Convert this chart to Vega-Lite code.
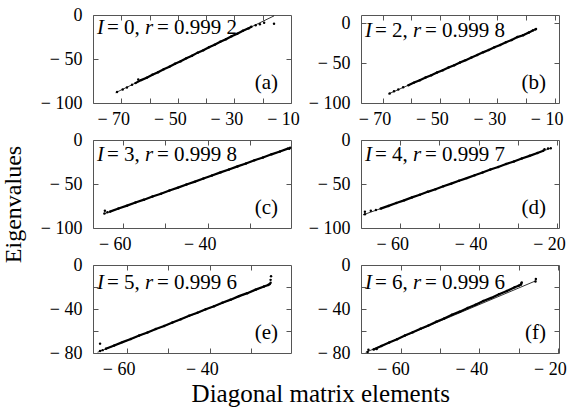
{
"$schema": "https://vega.github.io/schema/vega-lite/v6.json",
"padding": {"left": 0, "top": 5, "right": 0, "bottom": 0},
"config": {
  "font": "Liberation Serif",
  "view": {"stroke": "#555", "strokeWidth": 1},
  "axis": {"labelFont": "Liberation Serif", "labelFontSize": 18, "labelColor": "black", "tickColor": "#555", "tickSize": -5, "labelPadding": 16, "domain": false, "grid": false, "labelFlush": false, "labelOverlap": false, "titleFont": "Liberation Serif", "titleFontWeight": "normal", "titleColor": "black"},
  "axisBottom": {"labelPadding": 12, "labelOffset": -8},
  "text": {"font": "Liberation Serif", "fontSize": 21, "color": "black", "baseline": "alphabetic"}
},
"title": {"text": "Diagonal matrix elements", "orient": "bottom", "anchor": "middle", "fontSize": 25, "font": "Liberation Serif", "fontWeight": "normal", "color": "black", "offset": 3, "dx": 37},
"datasets": {
"fit": [
{"p":"a","x":-72,"y":-88.3},{"p":"a","x":-16,"y":-1.0},
{"p":"b","x":-68,"y":-88.8},{"p":"b","x":-16.5,"y":-7.7},
{"p":"c","x":-64.5,"y":-84.0},{"p":"c","x":-20.5,"y":-8.8},
{"p":"d","x":-69.5,"y":-85.1},{"p":"d","x":-21.5,"y":-9.2},
{"p":"e","x":-67,"y":-79.3},{"p":"e","x":-25.3,"y":-17.2},
{"p":"f","x":-69,"y":-79.4},{"p":"f","x":-25.5,"y":-14.2}
],
"pts": [
{"p":"a","x":-71.5,"y":-87.6,"s":1},{"p":"a","x":-69.5,"y":-84.6,"s":1},{"p":"a","x":-68,"y":-82.3,"s":1},{"p":"a","x":-66.2,"y":-79.3,"s":1},{"p":"a","x":-64,"y":-73.2,"s":1},
{"p":"a","x":-65,"y":-77.4,"s":0},{"p":"a","x":-63,"y":-74.0,"s":0},{"p":"a","x":-61,"y":-71.3,"s":0},{"p":"a","x":-59,"y":-67.8,"s":0},{"p":"a","x":-57,"y":-65.1,"s":0},{"p":"a","x":-55,"y":-61.6,"s":0},{"p":"a","x":-53,"y":-58.8,"s":0},{"p":"a","x":-51,"y":-55.3,"s":0},{"p":"a","x":-49,"y":-52.6,"s":0},{"p":"a","x":-47,"y":-49.1,"s":0},{"p":"a","x":-45,"y":-46.4,"s":0},{"p":"a","x":-43,"y":-42.8,"s":0},{"p":"a","x":-41,"y":-40.1,"s":0},{"p":"a","x":-39,"y":-36.6,"s":0},{"p":"a","x":-37,"y":-33.9,"s":0},{"p":"a","x":-35,"y":-30.4,"s":0},{"p":"a","x":-33,"y":-27.6,"s":0},{"p":"a","x":-31,"y":-24.1,"s":0},{"p":"a","x":-29,"y":-21.4,"s":0},{"p":"a","x":-27,"y":-17.9,"s":0},{"p":"a","x":-25,"y":-15.2,"s":0},{"p":"a","x":-24,"y":-13.4,"s":0},
{"p":"a","x":-22.5,"y":-11.6,"s":1},{"p":"a","x":-21,"y":-10.4,"s":1},{"p":"a","x":-19.5,"y":-8.8,"s":1},{"p":"a","x":-16,"y":-9.9,"s":1},
{"p":"b","x":-67.5,"y":-88.0,"s":1},{"p":"b","x":-66,"y":-85.4,"s":1},{"p":"b","x":-64.5,"y":-83.0,"s":1},{"p":"b","x":-62.8,"y":-80.2,"s":1},
{"p":"b","x":-61,"y":-77.8,"s":0},{"p":"b","x":-59,"y":-74.5,"s":0},{"p":"b","x":-57,"y":-71.6,"s":0},{"p":"b","x":-55,"y":-68.2,"s":0},{"p":"b","x":-53,"y":-65.3,"s":0},{"p":"b","x":-51,"y":-61.9,"s":0},{"p":"b","x":-49,"y":-59.0,"s":0},{"p":"b","x":-47,"y":-55.6,"s":0},{"p":"b","x":-45,"y":-52.7,"s":0},{"p":"b","x":-43,"y":-49.3,"s":0},{"p":"b","x":-41,"y":-46.4,"s":0},{"p":"b","x":-39,"y":-43.0,"s":0},{"p":"b","x":-37,"y":-40.1,"s":0},{"p":"b","x":-35,"y":-36.7,"s":0},{"p":"b","x":-33,"y":-33.8,"s":0},{"p":"b","x":-31,"y":-30.4,"s":0},{"p":"b","x":-29,"y":-27.5,"s":0},{"p":"b","x":-27,"y":-24.1,"s":0},{"p":"b","x":-25,"y":-21.2,"s":0},{"p":"b","x":-23,"y":-17.6,"s":0},{"p":"b","x":-21,"y":-15.4,"s":0},{"p":"b","x":-19,"y":-12.0,"s":0},{"p":"b","x":-17.5,"y":-9.0,"s":0},
{"p":"b","x":-16.8,"y":-8.0,"s":1},{"p":"b","x":-16.5,"y":-7.6,"s":1},
{"p":"c","x":-64.3,"y":-83.6,"s":1},{"p":"c","x":-64.2,"y":-80.5,"s":1},{"p":"c","x":-63.6,"y":-82.2,"s":1},
{"p":"c","x":-63,"y":-81.4,"s":0},{"p":"c","x":-61,"y":-77.9,"s":0},{"p":"c","x":-59,"y":-74.6,"s":0},{"p":"c","x":-57,"y":-71.0,"s":0},{"p":"c","x":-55,"y":-67.8,"s":0},{"p":"c","x":-53,"y":-64.2,"s":0},{"p":"c","x":-51,"y":-61.0,"s":0},{"p":"c","x":-49,"y":-57.3,"s":0},{"p":"c","x":-47,"y":-54.1,"s":0},{"p":"c","x":-45,"y":-50.5,"s":0},{"p":"c","x":-43,"y":-47.3,"s":0},{"p":"c","x":-41,"y":-43.7,"s":0},{"p":"c","x":-39,"y":-40.4,"s":0},{"p":"c","x":-37,"y":-36.8,"s":0},{"p":"c","x":-35,"y":-33.6,"s":0},{"p":"c","x":-33,"y":-30.0,"s":0},{"p":"c","x":-31,"y":-26.8,"s":0},{"p":"c","x":-29,"y":-23.1,"s":0},{"p":"c","x":-27,"y":-19.9,"s":0},{"p":"c","x":-25,"y":-16.3,"s":0},{"p":"c","x":-23,"y":-13.1,"s":0},{"p":"c","x":-21,"y":-9.5,"s":0},
{"p":"c","x":-20.6,"y":-8.8,"s":1},{"p":"c","x":-20.8,"y":-9.9,"s":1},
{"p":"d","x":-69,"y":-84.3,"s":1},{"p":"d","x":-69,"y":-81.5,"s":1},{"p":"d","x":-67.5,"y":-80.5,"s":1},{"p":"d","x":-66.2,"y":-79.6,"s":1},
{"p":"d","x":-65,"y":-78.0,"s":0},{"p":"d","x":-63,"y":-74.9,"s":0},{"p":"d","x":-61,"y":-71.6,"s":0},{"p":"d","x":-59,"y":-68.6,"s":0},{"p":"d","x":-57,"y":-65.2,"s":0},{"p":"d","x":-55,"y":-62.3,"s":0},{"p":"d","x":-53,"y":-58.9,"s":0},{"p":"d","x":-51,"y":-56.0,"s":0},{"p":"d","x":-49,"y":-52.6,"s":0},{"p":"d","x":-47,"y":-49.6,"s":0},{"p":"d","x":-45,"y":-46.3,"s":0},{"p":"d","x":-43,"y":-43.3,"s":0},{"p":"d","x":-41,"y":-40.0,"s":0},{"p":"d","x":-39,"y":-37.0,"s":0},{"p":"d","x":-37,"y":-33.6,"s":0},{"p":"d","x":-35,"y":-30.7,"s":0},{"p":"d","x":-33,"y":-27.3,"s":0},{"p":"d","x":-31,"y":-24.4,"s":0},{"p":"d","x":-29,"y":-21.0,"s":0},{"p":"d","x":-27,"y":-18.0,"s":0},{"p":"d","x":-25,"y":-14.7,"s":0},{"p":"d","x":-23.5,"y":-12.2,"s":0},
{"p":"d","x":-23.2,"y":-10.6,"s":1},{"p":"d","x":-22.3,"y":-9.6,"s":1},{"p":"d","x":-21.6,"y":-9.4,"s":1},
{"p":"e","x":-66.4,"y":-78.2,"s":1},{"p":"e","x":-66.4,"y":-71.5,"s":1},{"p":"e","x":-65.8,"y":-77.4,"s":1},
{"p":"e","x":-65,"y":-76.1,"s":0},{"p":"e","x":-63,"y":-73.2,"s":0},{"p":"e","x":-61,"y":-70.1,"s":0},{"p":"e","x":-59,"y":-67.3,"s":0},{"p":"e","x":-57,"y":-64.1,"s":0},{"p":"e","x":-55,"y":-61.3,"s":0},{"p":"e","x":-53,"y":-58.1,"s":0},{"p":"e","x":-51,"y":-55.4,"s":0},{"p":"e","x":-49,"y":-52.2,"s":0},{"p":"e","x":-47,"y":-49.4,"s":0},{"p":"e","x":-45,"y":-46.2,"s":0},{"p":"e","x":-43,"y":-43.4,"s":0},{"p":"e","x":-41,"y":-40.3,"s":0},{"p":"e","x":-39,"y":-37.5,"s":0},{"p":"e","x":-37,"y":-34.3,"s":0},{"p":"e","x":-35,"y":-31.5,"s":0},{"p":"e","x":-33,"y":-28.3,"s":0},{"p":"e","x":-31,"y":-25.6,"s":0},{"p":"e","x":-29,"y":-22.4,"s":0},{"p":"e","x":-27,"y":-19.6,"s":0},{"p":"e","x":-26,"y":-18.2,"s":0},{"p":"e","x":-25.6,"y":-17.3,"s":0},
{"p":"e","x":-25.4,"y":-16.2,"s":1},{"p":"e","x":-25.4,"y":-13.5,"s":1},{"p":"e","x":-25.3,"y":-10.2,"s":1},
{"p":"f","x":-68.5,"y":-79.1,"s":1},{"p":"f","x":-68.3,"y":-77.0,"s":1},{"p":"f","x":-66.2,"y":-76.3,"s":1},
{"p":"f","x":-67,"y":-76.8,"s":0},{"p":"f","x":-65,"y":-73.7,"s":0},{"p":"f","x":-63,"y":-70.4,"s":0},{"p":"f","x":-61,"y":-67.5,"s":0},{"p":"f","x":-59,"y":-64.1,"s":0},{"p":"f","x":-57,"y":-61.2,"s":0},{"p":"f","x":-55,"y":-57.9,"s":0},{"p":"f","x":-53,"y":-54.9,"s":0},{"p":"f","x":-51,"y":-51.6,"s":0},{"p":"f","x":-49,"y":-48.7,"s":0},{"p":"f","x":-47,"y":-45.3,"s":0},{"p":"f","x":-45,"y":-42.4,"s":0},{"p":"f","x":-43,"y":-39.1,"s":0},{"p":"f","x":-41,"y":-36.1,"s":0},{"p":"f","x":-39,"y":-32.8,"s":0},{"p":"f","x":-37,"y":-29.9,"s":0},{"p":"f","x":-35,"y":-26.5,"s":0},{"p":"f","x":-33,"y":-23.6,"s":0},{"p":"f","x":-31,"y":-20.3,"s":0},{"p":"f","x":-30,"y":-18.9,"s":0},{"p":"f","x":-29.4,"y":-17.7,"s":0},{"p":"f","x":-29.2,"y":-15.8,"s":0},
{"p":"f","x":-25.7,"y":-15.0,"s":1},{"p":"f","x":-25.6,"y":-12.8,"s":1}
]
},
"columns": 2,
"spacing": {"row": 37, "column": 70},
"bounds": "flush",
"concat": [
{"width": 198, "height": 88,
 "layer": [
  {"data": {"name": "fit"}, "transform": [{"filter": "datum.p == 'a'"}], "mark": {"type": "line", "color": "black", "strokeWidth": 0.8},
   "encoding": {
    "x": {"field": "x", "type": "quantitative", "scale": {"domain": [-80, -10], "nice": false, "zero": false}, "axis": {"orient": "bottom", "values": [-70, -60, -50, -40, -30, -20, -10], "labelExpr": "(datum.value + 10) % 20 == 0 ? '− ' + abs(datum.value) : ''", "title": null}},
    "y": {"field": "y", "type": "quantitative", "scale": {"domain": [-100, 0], "nice": false, "zero": false}, "axis": {"orient": "left", "values": [-100, -50, 0], "labelExpr": "datum.value < 0 ? '− ' + abs(datum.value) : '0'", "title": null}}}},
  {"data": {"name": "pts"}, "transform": [{"filter": "datum.p == 'a' && datum.s == 0"}], "mark": {"type": "line", "color": "black", "strokeWidth": 2.2},
   "encoding": {"x": {"field": "x", "type": "quantitative", "axis": null}, "y": {"field": "y", "type": "quantitative", "axis": null}}},
  {"data": {"name": "pts"}, "transform": [{"filter": "datum.p == 'a'"}], "mark": {"type": "circle", "color": "black", "size": 6, "opacity": 1},
   "encoding": {"x": {"field": "x", "type": "quantitative", "axis": {"orient": "top", "values": [-70, -60, -50, -40, -30, -20], "labels": false, "title": null}}, "y": {"field": "y", "type": "quantitative", "axis": {"orient": "right", "values": [-50], "labels": false, "title": null}}}},
  {"data": {"values": [{}]}, "mark": {"type": "text", "text": "I", "fontStyle": "italic", "align": "left", "dx": 4},
   "encoding": {"x": {"datum": -80, "type": "quantitative", "axis": null}, "y": {"datum": -22, "type": "quantitative", "axis": null}}},
  {"data": {"values": [{}]}, "mark": {"type": "text", "text": "= 0,", "align": "left", "dx": 14},
   "encoding": {"x": {"datum": -80, "type": "quantitative", "axis": null}, "y": {"datum": -22, "type": "quantitative", "axis": null}}},
  {"data": {"values": [{}]}, "mark": {"type": "text", "text": "r", "fontStyle": "italic", "align": "left", "dx": 52},
   "encoding": {"x": {"datum": -80, "type": "quantitative", "axis": null}, "y": {"datum": -22, "type": "quantitative", "axis": null}}},
  {"data": {"values": [{}]}, "mark": {"type": "text", "text": "= 0.999 2", "align": "left", "dx": 64},
   "encoding": {"x": {"datum": -80, "type": "quantitative", "axis": null}, "y": {"datum": -22, "type": "quantitative", "axis": null}}},
  {"data": {"values": [{}]}, "mark": {"type": "text", "text": "(a)", "align": "right", "dx": -13},
   "encoding": {"x": {"datum": -10, "type": "quantitative", "axis": null}, "y": {"datum": -84, "type": "quantitative", "axis": null}}}
 ],
 "resolve": {"axis": {"x": "independent", "y": "independent"}}
},
{"width": 198, "height": 88,
 "layer": [
  {"data": {"name": "fit"}, "transform": [{"filter": "datum.p == 'b'"}], "mark": {"type": "line", "color": "black", "strokeWidth": 0.8},
   "encoding": {
    "x": {"field": "x", "type": "quantitative", "scale": {"domain": [-77.5, -8.5], "nice": false, "zero": false}, "axis": {"orient": "bottom", "values": [-70, -60, -50, -40, -30, -20, -10], "labelExpr": "(datum.value + 10) % 20 == 0 ? '− ' + abs(datum.value) : ''", "title": null}},
    "y": {"field": "y", "type": "quantitative", "scale": {"domain": [-100, 10], "nice": false, "zero": false}, "axis": {"orient": "left", "values": [-100, -50, 0], "labelExpr": "datum.value < 0 ? '− ' + abs(datum.value) : '0'", "title": null}}}},
  {"data": {"name": "pts"}, "transform": [{"filter": "datum.p == 'b' && datum.s == 0"}], "mark": {"type": "line", "color": "black", "strokeWidth": 2.2},
   "encoding": {"x": {"field": "x", "type": "quantitative", "axis": null}, "y": {"field": "y", "type": "quantitative", "axis": null}}},
  {"data": {"name": "pts"}, "transform": [{"filter": "datum.p == 'b'"}], "mark": {"type": "circle", "color": "black", "size": 6, "opacity": 1},
   "encoding": {"x": {"field": "x", "type": "quantitative", "axis": {"orient": "top", "values": [-70, -60, -50, -40, -30, -20, -10], "labels": false, "title": null}}, "y": {"field": "y", "type": "quantitative", "axis": {"orient": "right", "values": [-50, 0], "labels": false, "title": null}}}},
  {"data": {"values": [{}]}, "mark": {"type": "text", "text": "I", "fontStyle": "italic", "align": "left", "dx": 4},
   "encoding": {"x": {"datum": -77.5, "type": "quantitative", "axis": null}, "y": {"datum": -17, "type": "quantitative", "axis": null}}},
  {"data": {"values": [{}]}, "mark": {"type": "text", "text": "= 2,", "align": "left", "dx": 14},
   "encoding": {"x": {"datum": -77.5, "type": "quantitative", "axis": null}, "y": {"datum": -17, "type": "quantitative", "axis": null}}},
  {"data": {"values": [{}]}, "mark": {"type": "text", "text": "r", "fontStyle": "italic", "align": "left", "dx": 52},
   "encoding": {"x": {"datum": -77.5, "type": "quantitative", "axis": null}, "y": {"datum": -17, "type": "quantitative", "axis": null}}},
  {"data": {"values": [{}]}, "mark": {"type": "text", "text": "= 0.999 8", "align": "left", "dx": 64},
   "encoding": {"x": {"datum": -77.5, "type": "quantitative", "axis": null}, "y": {"datum": -17, "type": "quantitative", "axis": null}}},
  {"data": {"values": [{}]}, "mark": {"type": "text", "text": "(b)", "align": "right", "dx": -13},
   "encoding": {"x": {"datum": -8.5, "type": "quantitative", "axis": null}, "y": {"datum": -82, "type": "quantitative", "axis": null}}}
 ],
 "resolve": {"axis": {"x": "independent", "y": "independent"}}
},
{"width": 198, "height": 88,
 "layer": [
  {"data": {"name": "fit"}, "transform": [{"filter": "datum.p == 'c'"}], "mark": {"type": "line", "color": "black", "strokeWidth": 0.8},
   "encoding": {
    "x": {"field": "x", "type": "quantitative", "scale": {"domain": [-67, -20.4], "nice": false, "zero": false}, "axis": {"orient": "bottom", "values": [-60, -50, -40, -30, -20], "labelExpr": "datum.value % 20 == 0 ? '− ' + abs(datum.value) : ''", "title": null}},
    "y": {"field": "y", "type": "quantitative", "scale": {"domain": [-100, 0], "nice": false, "zero": false}, "axis": {"orient": "left", "values": [-100, -50, 0], "labelExpr": "datum.value < 0 ? '− ' + abs(datum.value) : '0'", "title": "Eigenvalues", "titleFontSize": 24, "titlePadding": 15, "titleY": 64}}}},
  {"data": {"name": "pts"}, "transform": [{"filter": "datum.p == 'c' && datum.s == 0"}], "mark": {"type": "line", "color": "black", "strokeWidth": 2.2},
   "encoding": {"x": {"field": "x", "type": "quantitative", "axis": null}, "y": {"field": "y", "type": "quantitative", "axis": null}}},
  {"data": {"name": "pts"}, "transform": [{"filter": "datum.p == 'c'"}], "mark": {"type": "circle", "color": "black", "size": 6, "opacity": 1},
   "encoding": {"x": {"field": "x", "type": "quantitative", "axis": {"orient": "top", "values": [-60, -50, -40, -30], "labels": false, "title": null}}, "y": {"field": "y", "type": "quantitative", "axis": {"orient": "right", "values": [-50], "labels": false, "title": null}}}},
  {"data": {"values": [{}]}, "mark": {"type": "text", "text": "I", "fontStyle": "italic", "align": "left", "dx": 4},
   "encoding": {"x": {"datum": -67, "type": "quantitative", "axis": null}, "y": {"datum": -24, "type": "quantitative", "axis": null}}},
  {"data": {"values": [{}]}, "mark": {"type": "text", "text": "= 3,", "align": "left", "dx": 14},
   "encoding": {"x": {"datum": -67, "type": "quantitative", "axis": null}, "y": {"datum": -24, "type": "quantitative", "axis": null}}},
  {"data": {"values": [{}]}, "mark": {"type": "text", "text": "r", "fontStyle": "italic", "align": "left", "dx": 52},
   "encoding": {"x": {"datum": -67, "type": "quantitative", "axis": null}, "y": {"datum": -24, "type": "quantitative", "axis": null}}},
  {"data": {"values": [{}]}, "mark": {"type": "text", "text": "= 0.999 8", "align": "left", "dx": 64},
   "encoding": {"x": {"datum": -67, "type": "quantitative", "axis": null}, "y": {"datum": -24, "type": "quantitative", "axis": null}}},
  {"data": {"values": [{}]}, "mark": {"type": "text", "text": "(c)", "align": "right", "dx": -13},
   "encoding": {"x": {"datum": -20.4, "type": "quantitative", "axis": null}, "y": {"datum": -84, "type": "quantitative", "axis": null}}}
 ],
 "resolve": {"axis": {"x": "independent", "y": "independent"}}
},
{"width": 198, "height": 88,
 "layer": [
  {"data": {"name": "fit"}, "transform": [{"filter": "datum.p == 'd'"}], "mark": {"type": "line", "color": "black", "strokeWidth": 0.8},
   "encoding": {
    "x": {"field": "x", "type": "quantitative", "scale": {"domain": [-70, -19.5], "nice": false, "zero": false}, "axis": {"orient": "bottom", "values": [-60, -50, -40, -30, -20], "labelExpr": "datum.value % 20 == 0 ? '− ' + abs(datum.value) : ''", "title": null}},
    "y": {"field": "y", "type": "quantitative", "scale": {"domain": [-100, 0], "nice": false, "zero": false}, "axis": {"orient": "left", "values": [-100, -50, 0], "labelExpr": "datum.value < 0 ? '− ' + abs(datum.value) : '0'", "title": null}}}},
  {"data": {"name": "pts"}, "transform": [{"filter": "datum.p == 'd' && datum.s == 0"}], "mark": {"type": "line", "color": "black", "strokeWidth": 2.2},
   "encoding": {"x": {"field": "x", "type": "quantitative", "axis": null}, "y": {"field": "y", "type": "quantitative", "axis": null}}},
  {"data": {"name": "pts"}, "transform": [{"filter": "datum.p == 'd'"}], "mark": {"type": "circle", "color": "black", "size": 6, "opacity": 1},
   "encoding": {"x": {"field": "x", "type": "quantitative", "axis": {"orient": "top", "values": [-60, -50, -40, -30, -20], "labels": false, "title": null}}, "y": {"field": "y", "type": "quantitative", "axis": {"orient": "right", "values": [-50], "labels": false, "title": null}}}},
  {"data": {"values": [{}]}, "mark": {"type": "text", "text": "I", "fontStyle": "italic", "align": "left", "dx": 4},
   "encoding": {"x": {"datum": -70, "type": "quantitative", "axis": null}, "y": {"datum": -24, "type": "quantitative", "axis": null}}},
  {"data": {"values": [{}]}, "mark": {"type": "text", "text": "= 4,", "align": "left", "dx": 14},
   "encoding": {"x": {"datum": -70, "type": "quantitative", "axis": null}, "y": {"datum": -24, "type": "quantitative", "axis": null}}},
  {"data": {"values": [{}]}, "mark": {"type": "text", "text": "r", "fontStyle": "italic", "align": "left", "dx": 52},
   "encoding": {"x": {"datum": -70, "type": "quantitative", "axis": null}, "y": {"datum": -24, "type": "quantitative", "axis": null}}},
  {"data": {"values": [{}]}, "mark": {"type": "text", "text": "= 0.999 7", "align": "left", "dx": 64},
   "encoding": {"x": {"datum": -70, "type": "quantitative", "axis": null}, "y": {"datum": -24, "type": "quantitative", "axis": null}}},
  {"data": {"values": [{}]}, "mark": {"type": "text", "text": "(d)", "align": "right", "dx": -13},
   "encoding": {"x": {"datum": -19.5, "type": "quantitative", "axis": null}, "y": {"datum": -84, "type": "quantitative", "axis": null}}}
 ],
 "resolve": {"axis": {"x": "independent", "y": "independent"}}
},
{"width": 198, "height": 88,
 "layer": [
  {"data": {"name": "fit"}, "transform": [{"filter": "datum.p == 'e'"}], "mark": {"type": "line", "color": "black", "strokeWidth": 0.8},
   "encoding": {
    "x": {"field": "x", "type": "quantitative", "scale": {"domain": [-68.1, -20.5], "nice": false, "zero": false}, "axis": {"orient": "bottom", "values": [-60, -50, -40, -30, -20], "labelExpr": "datum.value % 20 == 0 ? '− ' + abs(datum.value) : ''", "title": null}},
    "y": {"field": "y", "type": "quantitative", "scale": {"domain": [-80, 0], "nice": false, "zero": false}, "axis": {"orient": "left", "values": [-80, -60, -40, -20, 0], "labelExpr": "datum.value % 40 == 0 ? (datum.value < 0 ? '− ' + abs(datum.value) : '0') : ''", "title": null}}}},
  {"data": {"name": "pts"}, "transform": [{"filter": "datum.p == 'e' && datum.s == 0"}], "mark": {"type": "line", "color": "black", "strokeWidth": 2.2},
   "encoding": {"x": {"field": "x", "type": "quantitative", "axis": null}, "y": {"field": "y", "type": "quantitative", "axis": null}}},
  {"data": {"name": "pts"}, "transform": [{"filter": "datum.p == 'e'"}], "mark": {"type": "circle", "color": "black", "size": 6, "opacity": 1},
   "encoding": {"x": {"field": "x", "type": "quantitative", "axis": {"orient": "top", "values": [-60, -50, -40, -30], "labels": false, "title": null}}, "y": {"field": "y", "type": "quantitative", "axis": {"orient": "right", "values": [-60, -40, -20], "labels": false, "title": null}}}},
  {"data": {"values": [{}]}, "mark": {"type": "text", "text": "I", "fontStyle": "italic", "align": "left", "dx": 4},
   "encoding": {"x": {"datum": -68.1, "type": "quantitative", "axis": null}, "y": {"datum": -22, "type": "quantitative", "axis": null}}},
  {"data": {"values": [{}]}, "mark": {"type": "text", "text": "= 5,", "align": "left", "dx": 14},
   "encoding": {"x": {"datum": -68.1, "type": "quantitative", "axis": null}, "y": {"datum": -22, "type": "quantitative", "axis": null}}},
  {"data": {"values": [{}]}, "mark": {"type": "text", "text": "r", "fontStyle": "italic", "align": "left", "dx": 52},
   "encoding": {"x": {"datum": -68.1, "type": "quantitative", "axis": null}, "y": {"datum": -22, "type": "quantitative", "axis": null}}},
  {"data": {"values": [{}]}, "mark": {"type": "text", "text": "= 0.999 6", "align": "left", "dx": 64},
   "encoding": {"x": {"datum": -68.1, "type": "quantitative", "axis": null}, "y": {"datum": -22, "type": "quantitative", "axis": null}}},
  {"data": {"values": [{}]}, "mark": {"type": "text", "text": "(e)", "align": "right", "dx": -13},
   "encoding": {"x": {"datum": -20.5, "type": "quantitative", "axis": null}, "y": {"datum": -67, "type": "quantitative", "axis": null}}}
 ],
 "resolve": {"axis": {"x": "independent", "y": "independent"}}
},
{"width": 198, "height": 88,
 "layer": [
  {"data": {"name": "fit"}, "transform": [{"filter": "datum.p == 'f'"}], "mark": {"type": "line", "color": "black", "strokeWidth": 0.8},
   "encoding": {
    "x": {"field": "x", "type": "quantitative", "scale": {"domain": [-70.2, -19.7], "nice": false, "zero": false}, "axis": {"orient": "bottom", "values": [-60, -50, -40, -30, -20], "labelExpr": "datum.value % 20 == 0 ? '− ' + abs(datum.value) : ''", "title": null}},
    "y": {"field": "y", "type": "quantitative", "scale": {"domain": [-80, 0], "nice": false, "zero": false}, "axis": {"orient": "left", "values": [-80, -60, -40, -20, 0], "labelExpr": "datum.value % 40 == 0 ? (datum.value < 0 ? '− ' + abs(datum.value) : '0') : ''", "title": null}}}},
  {"data": {"name": "pts"}, "transform": [{"filter": "datum.p == 'f' && datum.s == 0"}], "mark": {"type": "line", "color": "black", "strokeWidth": 2.2},
   "encoding": {"x": {"field": "x", "type": "quantitative", "axis": null}, "y": {"field": "y", "type": "quantitative", "axis": null}}},
  {"data": {"name": "pts"}, "transform": [{"filter": "datum.p == 'f'"}], "mark": {"type": "circle", "color": "black", "size": 6, "opacity": 1},
   "encoding": {"x": {"field": "x", "type": "quantitative", "axis": {"orient": "top", "values": [-60, -50, -40, -30, -20], "labels": false, "title": null}}, "y": {"field": "y", "type": "quantitative", "axis": {"orient": "right", "values": [-60, -40, -20], "labels": false, "title": null}}}},
  {"data": {"values": [{}]}, "mark": {"type": "text", "text": "I", "fontStyle": "italic", "align": "left", "dx": 4},
   "encoding": {"x": {"datum": -70.2, "type": "quantitative", "axis": null}, "y": {"datum": -22, "type": "quantitative", "axis": null}}},
  {"data": {"values": [{}]}, "mark": {"type": "text", "text": "= 6,", "align": "left", "dx": 14},
   "encoding": {"x": {"datum": -70.2, "type": "quantitative", "axis": null}, "y": {"datum": -22, "type": "quantitative", "axis": null}}},
  {"data": {"values": [{}]}, "mark": {"type": "text", "text": "r", "fontStyle": "italic", "align": "left", "dx": 52},
   "encoding": {"x": {"datum": -70.2, "type": "quantitative", "axis": null}, "y": {"datum": -22, "type": "quantitative", "axis": null}}},
  {"data": {"values": [{}]}, "mark": {"type": "text", "text": "= 0.999 6", "align": "left", "dx": 64},
   "encoding": {"x": {"datum": -70.2, "type": "quantitative", "axis": null}, "y": {"datum": -22, "type": "quantitative", "axis": null}}},
  {"data": {"values": [{}]}, "mark": {"type": "text", "text": "(f)", "align": "right", "dx": -13},
   "encoding": {"x": {"datum": -19.7, "type": "quantitative", "axis": null}, "y": {"datum": -67, "type": "quantitative", "axis": null}}}
 ],
 "resolve": {"axis": {"x": "independent", "y": "independent"}}
}
]
}
